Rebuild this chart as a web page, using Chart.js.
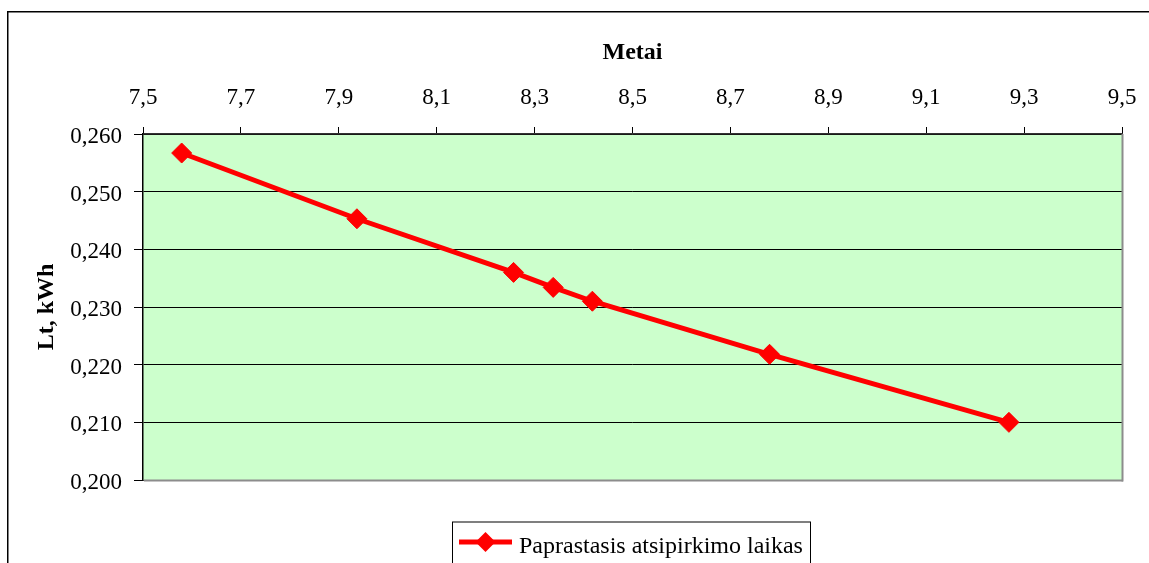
<!DOCTYPE html>
<html>
<head>
<meta charset="utf-8">
<script src="https://cdn.jsdelivr.net/npm/chart.js@4/dist/chart.umd.min.js"></script>
<style>
  html, body { margin: 0; padding: 0; background: #fff; overflow: hidden; }
  #wrap { position: absolute; left: 0; top: 0; width: 1149px; height: 600px; }
</style>
</head>
<body>
<div id="wrap"><canvas id="c" width="1149" height="600"></canvas></div>
<script>
// Payback time (years) vs. cost per kWh
const seriesName = 'Paprastasis atsipirkimo laikas';
const xTitle = 'Metai';
const yTitle = 'Lt, kWh';
const years = [7.579, 7.937, 8.257, 8.338, 8.418, 8.780, 9.269];
const costs = [0.2567, 0.2453, 0.2360, 0.2334, 0.2310, 0.2218, 0.2100];
const xTickLabels = ['7,5', '7,7', '7,9', '8,1', '8,3', '8,5', '8,7', '8,9', '9,1', '9,3', '9,5'];
const yTickLabels = ['0,200', '0,210', '0,220', '0,230', '0,240', '0,250', '0,260'];

const FONT = '"Liberation Serif", "Times New Roman", serif';
const RED = '#FF0000';

const points = years.map((x, i) => ({ x: x, y: costs[i] }));

// plot-area fill, outer frame, plot border and legend box
const decor = {
  id: 'decor',
  beforeDraw(chart) {
    const { ctx, chartArea: a } = chart;
    ctx.save();
    ctx.fillStyle = '#CCFFCC';
    ctx.fillRect(a.left, a.top, a.right - a.left, a.bottom - a.top);
    ctx.restore();
  },
  afterDraw(chart) {
    const { ctx, chartArea: a } = chart;
    ctx.save();
    // outer frame (top and left edges)
    ctx.fillStyle = '#000';
    ctx.fillRect(7, 11, 1149, 1.5);
    ctx.fillRect(7, 11, 1.5, 600);
    // plot border right/bottom
    ctx.fillStyle = '#8c8c8c';
    ctx.fillRect(a.right - 0.5, a.top, 2, a.bottom - a.top + 1.5);
    ctx.fillRect(a.left + 1, a.bottom - 0.5, a.right - a.left, 2);

    // legend
    const bx = 452.5, by = 522, bw = 358, bh = 60;
    ctx.strokeStyle = '#000';
    ctx.lineWidth = 1;
    ctx.strokeRect(bx, by, bw, bh);
    const ly = 542;
    ctx.strokeStyle = RED;
    ctx.lineWidth = 5;
    ctx.beginPath();
    ctx.moveTo(459, ly);
    ctx.lineTo(512, ly);
    ctx.stroke();
    ctx.fillStyle = RED;
    const cx = 485.5, r = 10;
    ctx.beginPath();
    ctx.moveTo(cx - r, ly);
    ctx.lineTo(cx, ly - r);
    ctx.lineTo(cx + r, ly);
    ctx.lineTo(cx, ly + r);
    ctx.closePath();
    ctx.fill();
    ctx.fillStyle = '#000';
    ctx.font = '24px ' + FONT;
    ctx.textBaseline = 'alphabetic';
    ctx.textAlign = 'left';
    ctx.fillText(seriesName, 519, 553);
    ctx.restore();
  }
};

new Chart(document.getElementById('c'), {
  type: 'line',
  data: {
    datasets: [{
      label: seriesName,
      data: points,
      borderColor: RED,
      backgroundColor: RED,
      borderWidth: 5,
      pointStyle: 'rectRot',
      pointRadius: 10,
      pointBorderWidth: 1,
      pointBorderColor: RED,
      pointBackgroundColor: RED,
      tension: 0,
      fill: false
    }]
  },
  options: {
    responsive: false,
    animation: false,
    devicePixelRatio: 1,
    layout: { padding: { left: 0, top: 0, right: 27, bottom: 120 } },
    plugins: {
      legend: { display: false },
      tooltip: { enabled: false }
    },
    scales: {
      x: {
        type: 'linear',
        position: 'top',
        min: 7.5,
        max: 9.5,
        afterFit(scale) {
          scale.height = 134;
          scale.paddingLeft = 0;
          scale.paddingRight = 0;
        },
        afterBuildTicks(scale) {
          scale.ticks = xTickLabels.map((_, i) => ({ value: 7.5 + i * 0.2 }));
        },
        ticks: {
          autoSkip: false,
          maxRotation: 0,
          padding: 15,
          color: '#000',
          font: { family: FONT, size: 23 },
          callback: (v, i) => xTickLabels[i]
        },
        grid: {
          drawOnChartArea: false,
          drawTicks: true,
          tickLength: 7,
          color: '#000',
          lineWidth: 1
        },
        border: { display: true, color: '#333', width: 1.5 },
        title: {
          display: true,
          text: xTitle,
          color: '#000',
          font: { family: FONT, size: 24, weight: 'bold' },
          padding: { top: 38, bottom: 0 }
        }
      },
      y: {
        type: 'linear',
        position: 'left',
        min: 0.2,
        max: 0.26,
        afterFit(scale) {
          scale.width = 143;
          scale.paddingTop = 0;
          scale.paddingBottom = 0;
        },
        afterBuildTicks(scale) {
          scale.ticks = yTickLabels.map((_, i) => ({ value: 0.2 + i * 0.01 }));
        },
        ticks: {
          autoSkip: false,
          padding: 12,
          labelOffset: 3,
          color: '#000',
          font: { family: FONT, size: 23 },
          callback: (v, i) => yTickLabels[i]
        },
        grid: {
          drawOnChartArea: true,
          drawTicks: true,
          tickLength: 9,
          color: '#000',
          lineWidth: 1
        },
        border: { display: true, color: '#000', width: 1.5 },
        title: {
          display: true,
          text: yTitle,
          color: '#000',
          font: { family: FONT, size: 24, weight: 'bold' },
          padding: { top: 32, bottom: 0 }
        }
      }
    }
  },
  plugins: [decor]
});
</script>
</body>
</html>
